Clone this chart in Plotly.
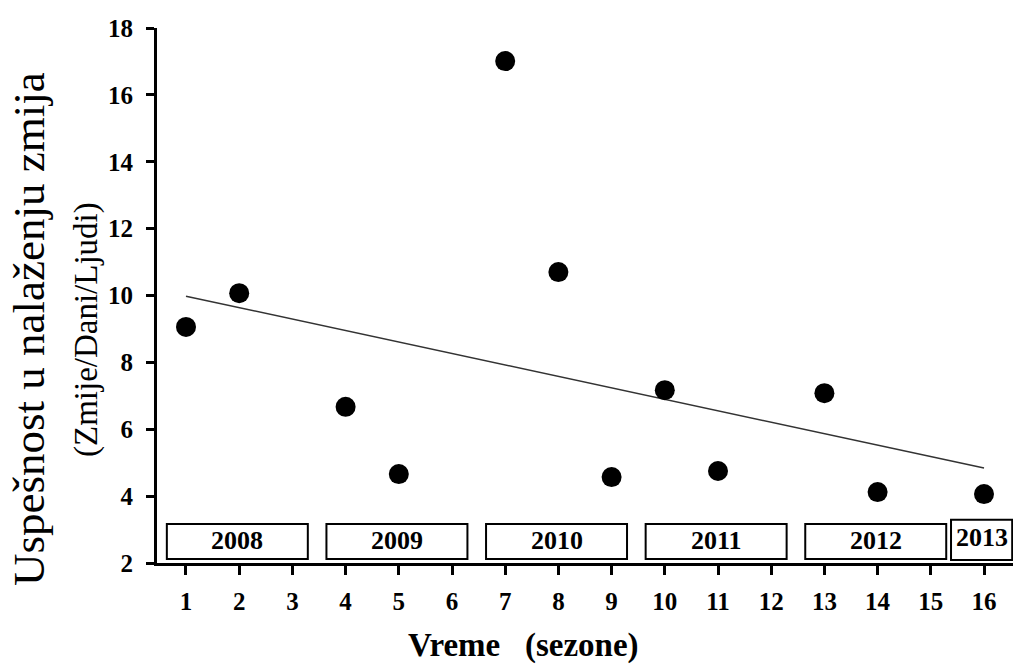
import plotly.graph_objects as go

# ---- data ----
seasons = [1, 2, 4, 5, 7, 8, 9, 10, 11, 13, 14, 16]
success = [9.06, 10.07, 6.67, 4.66, 17.01, 10.70, 4.57, 7.17, 4.75, 7.08, 4.12, 4.06]
trend_x = [1, 16]
trend_y = [9.98, 4.84]
years = ["2008", "2009", "2010", "2011", "2012", "2013"]
year_first_season = [1, 4, 7, 10, 13, 16]
year_last_season = [3, 6, 9, 12, 15, 16]
x_ticks = list(range(1, 17))
y_ticks = [2, 4, 6, 8, 10, 12, 14, 16, 18]

SERIF = "Liberation Serif"
W, H = 1017, 666
ML, MR, MT, MB = 157, 4, 28, 103
XR = [0.455, 16.545]
YR = [2, 18]

fig = go.Figure()

fig.add_trace(go.Scatter(
    x=trend_x, y=trend_y, mode="lines",
    line=dict(color="#333333", width=1.5), hoverinfo="skip", showlegend=False))

fig.add_trace(go.Scatter(
    x=seasons, y=success, mode="markers",
    marker=dict(color="black", size=20, line=dict(width=0)),
    showlegend=False))

# year boxes
shapes = []
annotations = []
for i, yr in enumerate(years):
    last = i == len(years) - 1
    x0 = year_first_season[i] - (0.62 if last else 0.36)
    x1 = year_last_season[i] + (0.53 if last else 0.29)
    y0, y1 = (2.09, 3.29) if last else (2.12, 3.17)
    shapes.append(dict(type="rect", xref="x", yref="y", x0=x0, x1=x1, y0=y0, y1=y1,
                       line=dict(color="black", width=2), fillcolor="white", layer="above"))
    annotations.append(dict(x=(x0 + x1) / 2, y=(2.75 if last else 2.66), xref="x", yref="y",
                            text="<b>%s</b>" % yr, showarrow=False,
                            font=dict(family=SERIF, size=26, color="black")))

pw = W - ML - MR
ph = H - MT - MB
def px_x(p):
    return (p - ML) / pw
def px_y(p):
    return 1 - (p - MT) / ph

annotations.append(dict(x=px_x(29), y=px_y(329), xref="paper", yref="paper",
                        text="Uspešnost u nalaženju zmija", textangle=-90, showarrow=False,
                        xanchor="center", yanchor="middle",
                        font=dict(family=SERIF, size=45, color="black")))
annotations.append(dict(x=px_x(86), y=px_y(330), xref="paper", yref="paper",
                        text="(Zmije/Dani/Ljudi)", textangle=-90, showarrow=False,
                        xanchor="center", yanchor="middle",
                        font=dict(family=SERIF, size=33, color="black")))
annotations.append(dict(x=px_x(523), y=px_y(645), xref="paper", yref="paper",
                        text="<b>Vreme</b>&nbsp;&nbsp;&nbsp;<b>(sezone)</b>", showarrow=False,
                        xanchor="center", yanchor="middle",
                        font=dict(family=SERIF, size=33, color="black")))

fig.update_layout(
    width=W, height=H,
    margin=dict(l=ML, r=MR, t=MT, b=MB),
    paper_bgcolor="white", plot_bgcolor="white",
    shapes=shapes, annotations=annotations,
    xaxis=dict(range=XR, tickmode="array", tickvals=x_ticks,
               ticktext=["<b>%d</b>" % v for v in x_ticks],
               showgrid=False, zeroline=False, showline=True, linecolor="black", linewidth=3,
               ticks="outside", ticklen=9, tickwidth=3, tickcolor="black",
               ticklabelstandoff=5,
               tickfont=dict(family=SERIF, size=25, color="black")),
    yaxis=dict(range=YR, tickmode="array", tickvals=y_ticks,
               ticktext=["<b>%d</b>" % v for v in y_ticks],
               showgrid=False, zeroline=False, showline=True, linecolor="black", linewidth=3,
               ticks="outside", ticklen=8, tickwidth=3, tickcolor="black",
               ticklabelstandoff=8,
               tickfont=dict(family=SERIF, size=25, color="black")),
)

fig.write_html("out.html")
